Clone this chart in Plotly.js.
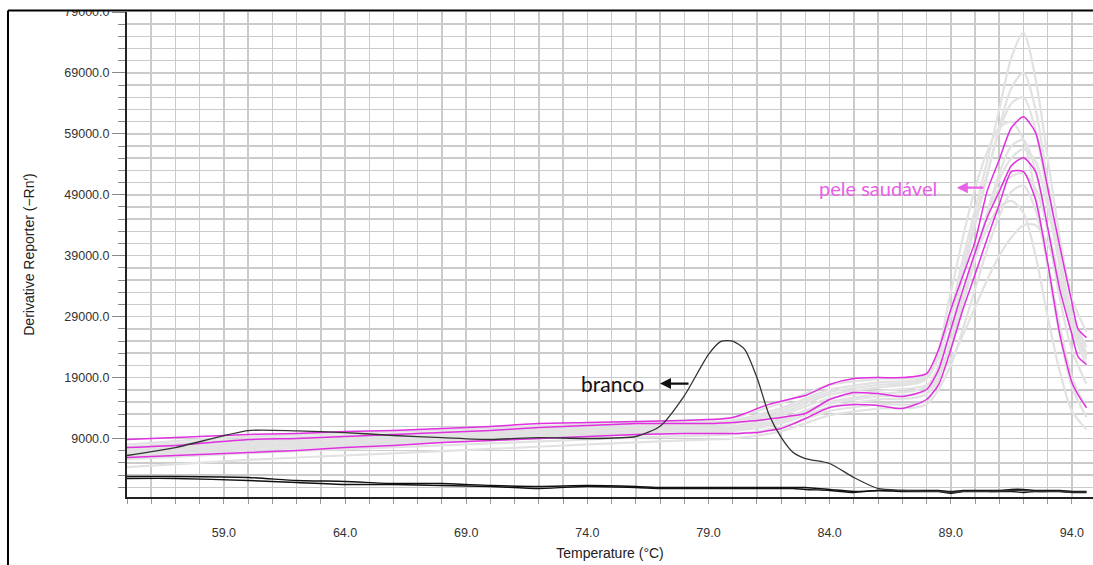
<!DOCTYPE html>
<html>
<head>
<meta charset="utf-8">
<script src="https://cdn.plot.ly/plotly-3.0.1.min.js"></script>
<style>html,body{margin:0;padding:0;background:#fff;}#chart{width:1093px;height:565px;}</style>
</head>
<body>
<div id="chart"></div>
<script>
// Temperature grid (°C) for the highlighted curves
const temps = [55, 57, 60, 62, 64, 66, 68, 70, 72, 74, 76, 77, 78, 79, 79.5, 80, 80.5, 81, 81.5, 82, 82.5, 83, 84, 85, 86, 87, 88, 88.5, 89, 89.5, 90, 90.5, 91, 91.5, 92, 92.5, 93, 93.5, 94, 94.25, 94.6];

// "pele saudável" samples (magenta)
const peleA = [8840, 9160, 9660, 9820, 10150, 10310, 10640, 10970, 11460, 11620, 11790, 11870, 11950, 12100, 12200, 12440, 13100, 13900, 14600, 15100, 15600, 16050, 17860, 18840, 19000, 19000, 19660, 23600, 30160, 35730, 41310, 49600, 54760, 60000, 61800, 59200, 50160, 40490, 31300, 27000, 25560];
const peleB = [7520, 7850, 8840, 9000, 9330, 9660, 9980, 10310, 10800, 11130, 11460, 11460, 11460, 11460, 11540, 11620, 11780, 11950, 12200, 12440, 12770, 13100, 15400, 16540, 16380, 15890, 17040, 20320, 26880, 33440, 39500, 45240, 49510, 53770, 55080, 52790, 43600, 33440, 26060, 22450, 21140];
const peleC = [5880, 6210, 6700, 7030, 7520, 7850, 8340, 8670, 9000, 9330, 9660, 9740, 9820, 9820, 9820, 9820, 9900, 9980, 10300, 10640, 11400, 12280, 14080, 14580, 14410, 13920, 15400, 17860, 23600, 30160, 35900, 41800, 47380, 52800, 52790, 48200, 37860, 26060, 18180, 16220, 14080];

// "branco" samples (black)
const brancoPeak = [6210, 7520, 10300, 10250, 9980, 9490, 9160, 8840, 9160, 9000, 9330, 11000, 16000, 22800, 24900, 25000, 23600, 19000, 12900, 9200, 6700, 5700, 4900, 2600, 800, 470, 310, 310, 150, 310, 310, 310, 310, 470, 470, 310, 310, 310, 200, 200, 200];
const brancoFlat1 = [2770, 2770, 2600, 2110, 1950, 1620, 1620, 1290, 1130, 1290, 1130, 960, 960, 960, 960, 960, 960, 960, 960, 960, 960, 960, 640, 300, 470, 470, 470, 470, 300, 470, 470, 470, 470, 640, 640, 470, 470, 470, 300, 300, 300];
const brancoFlat2 = [2440, 2440, 2110, 1780, 1460, 1460, 1290, 1130, 800, 1130, 960, 800, 800, 800, 800, 800, 800, 800, 800, 800, 800, 640, 470, 150, 470, 300, 300, 300, 0, 300, 300, 300, 300, 300, 150, 300, 300, 300, 150, 150, 150];

// Other samples (light gray), on their own temperature grid
const tempsGray = [55, 60, 65, 70, 75, 78, 80, 82, 84, 86, 88, 89, 89.5, 90, 90.5, 91, 91.5, 92, 92.5, 93, 93.5, 94, 94.6];
const gray1 = [7000, 8300, 9100, 9800, 10600, 11000, 11400, 13200, 16200, 17400, 18800, 30000, 38500, 46500, 54500, 63000, 71500, 75600, 68000, 55000, 42000, 32000, 26500];
const gray2 = [6500, 7700, 8500, 9300, 10100, 10500, 10800, 12200, 15000, 16300, 17600, 27000, 35500, 44000, 52000, 60000, 66500, 69000, 63000, 51000, 39000, 29500, 24000];
const gray3 = [7600, 8900, 9600, 10300, 11100, 11600, 12000, 14000, 17000, 18200, 19200, 29000, 37000, 45000, 52500, 59500, 64000, 65000, 59500, 48500, 37000, 28000, 22000];
const gray4 = [6000, 7100, 7900, 8700, 9500, 9900, 10200, 11500, 14200, 15400, 16300, 24000, 31000, 38500, 46000, 52500, 57000, 58000, 53000, 43000, 32000, 23500, 18000];
const gray5 = [8000, 9300, 10000, 10700, 11500, 12000, 12400, 14800, 17800, 18800, 19500, 26500, 33000, 39500, 45500, 50000, 52000, 52500, 50000, 43500, 35000, 27000, 21000];
const gray6 = [5600, 6600, 7400, 8200, 9000, 9400, 9700, 10900, 13500, 14600, 15200, 25000, 32000, 38500, 43500, 47000, 48000, 46000, 39000, 29000, 20000, 13500, 10500];
const gray7 = [6800, 8000, 8800, 9500, 10300, 10700, 11000, 12800, 15600, 16800, 17800, 22000, 26000, 30500, 35000, 39000, 42000, 44000, 44000, 41000, 35000, 28000, 22500];
const gray8 = [7300, 8600, 9300, 10000, 10800, 11300, 11700, 13600, 16600, 17800, 19000, 33000, 42000, 50000, 56000, 60000, 61000, 58000, 49000, 37000, 26000, 17500, 12500];
const gray9 = [6200, 7400, 8200, 9000, 9800, 10200, 10500, 11900, 14700, 15900, 16900, 24500, 31500, 38500, 45500, 51500, 55000, 56500, 54500, 47000, 37500, 29000, 23000];
const gray10 = [4300, 5500, 6400, 7300, 8200, 8700, 9000, 10200, 12800, 13900, 14600, 21000, 27000, 33500, 40000, 45500, 49500, 50500, 46500, 37500, 27500, 19000, 14000];

const grayList = [gray1, gray2, gray3, gray4, gray5, gray6, gray7, gray8, gray9, gray10];

const traces = [];
grayList.forEach(function (g) {
  traces.push({x: tempsGray, y: g, type: 'scatter', mode: 'lines',
    line: {color: '#e2e2e2', width: 2.2, shape: 'spline', smoothing: 0.8}, hoverinfo: 'skip'});
});
[brancoFlat1, brancoFlat2].forEach(function (b) {
  traces.push({x: temps, y: b, type: 'scatter', mode: 'lines',
    line: {color: '#111111', width: 1.4, shape: 'spline', smoothing: 0.6}});
});
[peleA, peleB, peleC].forEach(function (p) {
  traces.push({x: temps, y: p, type: 'scatter', mode: 'lines',
    line: {color: '#e030e0', width: 1.5, shape: 'spline', smoothing: 0.6}});
});
traces.push({x: temps, y: brancoPeak, type: 'scatter', mode: 'lines',
  line: {color: '#333333', width: 1.3, shape: 'spline', smoothing: 0.6}});

const gridCol = '#cbcbcb';
const tickFont = {family: 'Liberation Sans, Arial, sans-serif', size: 12.5, color: '#333'};

const layout = {
  width: 1093, height: 565,
  margin: {l: 127, r: 0, t: 12, b: 68, pad: 0},
  paper_bgcolor: '#ffffff', plot_bgcolor: '#ffffff',
  showlegend: false,
  xaxis: {
    range: [55, 94.87], tick0: 59, dtick: 5, tickformat: '.1f',
    showgrid: true, gridcolor: gridCol, gridwidth: 1.5,
    ticks: 'outside', ticklen: 5, tickcolor: '#999', tickwidth: 1,
    ticklabelstandoff: 18,
    minor: {dtick: 1, tick0: 55, showgrid: true, gridcolor: gridCol, gridwidth: 1.5, ticks: 'outside', ticklen: 5, tickcolor: '#999'},
    showline: true, linecolor: '#222', linewidth: 2, zeroline: false,
    tickfont: tickFont,
    title: {text: 'Temperature (°C)', font: {family: 'Liberation Sans, Arial, sans-serif', size: 14, color: '#222'}, standoff: 9}
  },
  yaxis: {
    range: [-600, 79000], tick0: 9000, dtick: 10000, tickformat: '.1f',
    showgrid: true, gridcolor: gridCol, gridwidth: 1.5,
    ticks: 'outside', ticklen: 13, tickcolor: '#888', tickwidth: 1,
    minor: {dtick: 2000, tick0: 9000, showgrid: true, gridcolor: gridCol, gridwidth: 1.5, ticks: 'outside', ticklen: 7, tickcolor: '#888'},
    showline: true, linecolor: '#222', linewidth: 2, zeroline: false,
    tickfont: tickFont,
    title: {text: 'Derivative Reporter (−Rn′)', font: {family: 'Liberation Sans, Arial, sans-serif', size: 14, color: '#222'}, standoff: 26}
  },
  shapes: [
    {type: 'rect', xref: 'paper', yref: 'paper', x0: -0.2, x1: 1.05, y0: 1.003, y1: 1.06, fillcolor: '#ffffff', line: {width: 0}, layer: 'above'},
    {type: 'line', xref: 'paper', yref: 'paper', x0: -0.1232, x1: 1.01, y0: 1.003, y1: 1.003, line: {color: '#000', width: 2}, layer: 'above'},
    {type: 'line', xref: 'paper', yref: 'paper', x0: -0.1232, x1: -0.1232, y0: 1.003, y1: -0.16, line: {color: '#000', width: 2}, layer: 'above'}
  ],
  annotations: [
    {x: 75.02, y: 18020, xref: 'x', yref: 'y', text: 'branco', showarrow: false,
      font: {family: 'Lato, Open Sans, sans-serif', size: 21, color: '#111'}},
    {x: 77.0, y: 18020, xref: 'x', yref: 'y', text: '', showarrow: true, ax: 30, ay: 0,
      arrowhead: 2, arrowsize: 1, arrowwidth: 2.2, arrowcolor: '#111'},
    {x: 85.99, y: 50164, xref: 'x', yref: 'y', text: 'pele saudável', showarrow: false,
      font: {family: 'Lato, Open Sans, sans-serif', size: 20, color: '#e860e8'}},
    {x: 89.25, y: 50164, xref: 'x', yref: 'y', text: '', showarrow: true, ax: 28, ay: 0,
      arrowhead: 2, arrowsize: 1, arrowwidth: 2.2, arrowcolor: '#e860e8'}
  ]
};

Plotly.newPlot('chart', traces, layout, {displayModeBar: false, staticPlot: true});
</script>
</body>
</html>
